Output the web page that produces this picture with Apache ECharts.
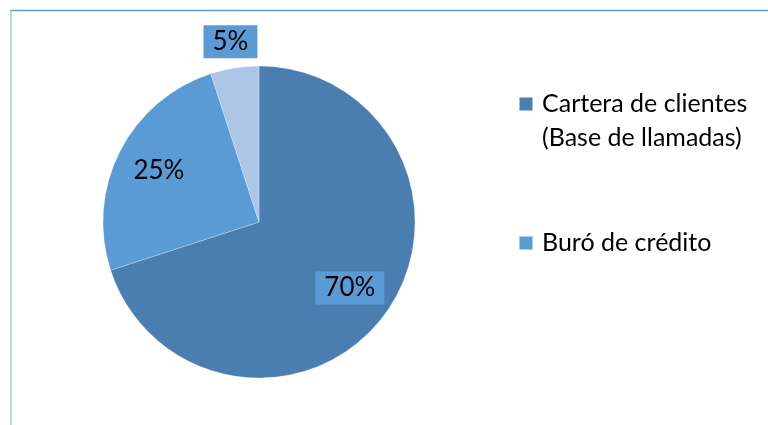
<!DOCTYPE html>
<html>
<head>
<meta charset="utf-8">
<script src="https://cdn.jsdelivr.net/npm/echarts@6/dist/echarts.min.js"></script>
<style>
  html, body { margin: 0; padding: 0; background: #fff; }
  #chart { width: 768px; height: 425px; }
</style>
</head>
<body>
<div id="chart"></div>
<script>
// Origen de los contactos
const categories = ['Cartera de clientes (Base de llamadas)', 'Buró de crédito', 'Otros'];
const shares = [70, 25, 5];
const sliceColors = ['#4a7eb0', '#5b9bd5', '#adc5e7'];
const legendNames = categories.slice(0, 2);

const FONT = 'Lato, "Open Sans", sans-serif';
const center = [259, 222];
const radius = 156;
const total = shares.reduce((a, b) => a + b, 0);

// Label anchor along the slice's mid-angle (clockwise from 12 o'clock);
// thin slices get their label pushed outside the pie.
function labelAnchor(i) {
  let before = 0;
  for (let j = 0; j < i; j++) before += shares[j];
  const mid = (before + shares[i] / 2) / total * 2 * Math.PI;
  const k = shares[i] / total < 0.1 ? 1.17 : 0.72;
  return {
    x: center[0] + k * radius * Math.sin(mid),
    y: center[1] - k * radius * Math.cos(mid)
  };
}

const chart = echarts.init(document.getElementById('chart'), null, { renderer: 'canvas' });

const legendBase = {
  orient: 'vertical',
  left: 518,
  padding: 0,
  itemWidth: 14,
  itemHeight: 14,
  icon: 'rect',
  selectedMode: false
};

chart.setOption({
  animation: false,
  backgroundColor: '#fff',
  graphic: [
    { type: 'line', shape: { x1: 10, y1: 10.5, x2: 768, y2: 10.5 }, style: { stroke: '#5b9bd5', lineWidth: 1.5 }, silent: true },
    { type: 'line', shape: { x1: 11, y1: 10, x2: 11, y2: 425 }, style: { stroke: '#a4c6ea', lineWidth: 1.5 }, silent: true }
  ],
  legend: [
    Object.assign({}, legendBase, {
      data: [legendNames[0]],
      top: 53,
      // leading blank line keeps the first text line level with the swatch
      formatter: n => '\n' + n.replace(' (', '\n('),
      textStyle: { fontFamily: FONT, fontSize: 25, lineHeight: 34, color: '#000', padding: [0, 0, 0, 4] }
    }),
    Object.assign({}, legendBase, {
      data: [legendNames[1]],
      top: 226,
      textStyle: { fontFamily: FONT, fontSize: 25, lineHeight: 34, color: '#000', padding: [0, 0, 0, 4] }
    })
  ],
  series: [{
    type: 'pie',
    center: center,
    radius: radius,
    startAngle: 90,
    clockwise: true,
    avoidLabelOverlap: false,
    emphasis: { disabled: true },
    itemStyle: { borderColor: 'rgba(255,255,255,0.5)', borderWidth: 0.5 },
    label: {
      show: true,
      position: 'inside',
      formatter: p => p.value + '%',
      fontFamily: FONT,
      fontSize: 26,
      lineHeight: 31,
      color: '#000',
      align: 'center',
      verticalAlign: 'middle',
      backgroundColor: '#5b9bd5',
      padding: [1, 9]
    },
    labelLine: { show: false },
    labelLayout: p => labelAnchor(p.dataIndex),
    data: categories.map((name, i) => ({
      name: name,
      value: shares[i],
      itemStyle: { color: sliceColors[i] }
    }))
  }]
});
</script>
</body>
</html>
